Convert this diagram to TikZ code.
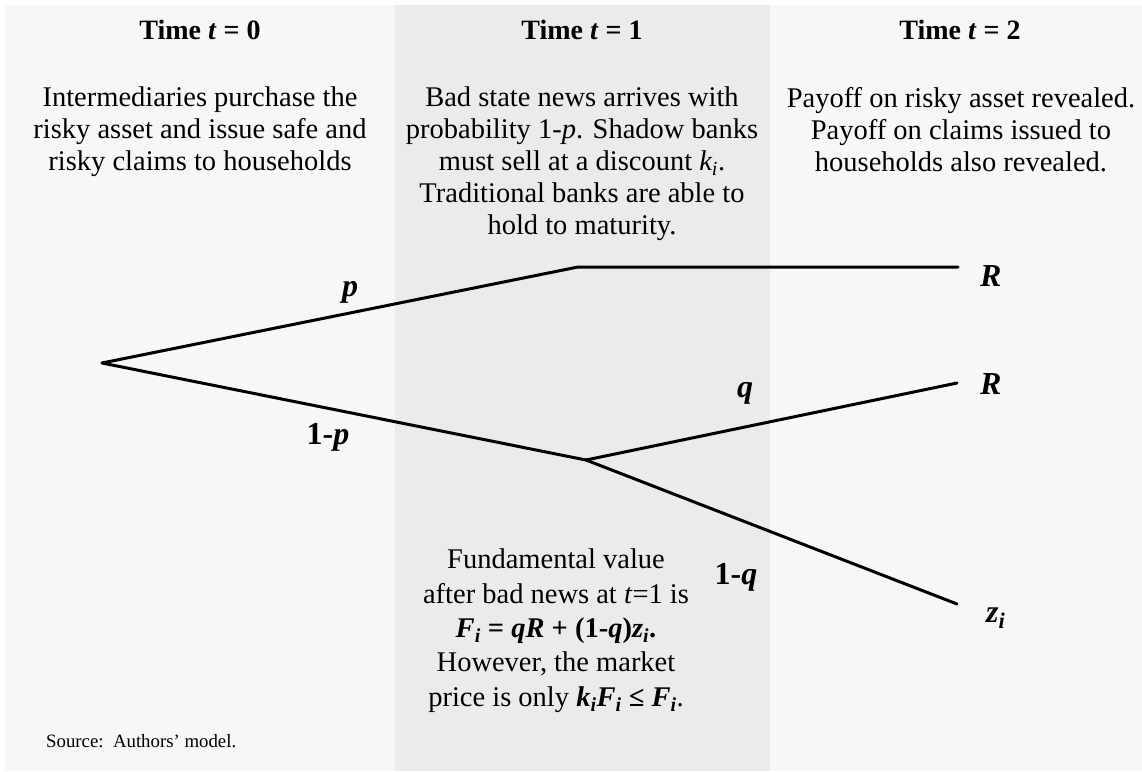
\documentclass[tikz,border=0pt]{standalone}
\usepackage{fontspec}
\setmainfont{Liberation Serif}
\newfontfamily\tnr{Liberation Serif}
\begin{document}
\begin{tikzpicture}[x=1pt,y=-1pt,
  branch/.style={line width=3pt,line cap=round},
  head/.style={font=\tnr\fontsize{28}{32}\selectfont\bfseries,align=center,inner sep=0pt},
  body/.style={font=\tnr\fontsize{28.5}{32}\selectfont,align=center,inner sep=0pt},
  bodyb/.style={font=\tnr\fontsize{28.5}{34.3}\selectfont,align=center,inner sep=0pt},
  lab/.style={font=\tnr\fontsize{32}{34}\selectfont\bfseries,inner sep=0pt}]
\definecolor{bgout}{HTML}{F7F7F7}
\definecolor{bgband}{HTML}{EBEBEB}
\useasboundingbox (0,0) rectangle (1142,771);
\fill[white] (0,0) rectangle (1142,771);
\fill[bgout] (5,5) rectangle (1142,771);
\fill[bgband] (395,5) rectangle (770,771);
% headings
\node[head,anchor=base] (h0) at (200,39) {Time \textit{t} = 0};
\node[head,anchor=base] (h1) at (582,39) {Time \textit{t} = 1};
\node[head,anchor=base] (h2) at (960,39) {Time \textit{t} = 2};
% texts
\node[body,anchor=north] (b0) at (200,87) {Intermediaries purchase the\\risky asset and issue safe and\\risky claims to households};
\node[body,anchor=north] (b1) at (582,87) {Bad state news arrives with\\probability 1-\textit{p}. Shadow banks\\must sell at a discount \textit{k\textsubscript{\textit{i}}}.\\Traditional banks are able to\\hold to maturity.};
\node[body,anchor=north] (b2) at (961,87) {Payoff on risky asset revealed.\\Payoff on claims issued to\\households also revealed.};
\node[bodyb,anchor=north] (b3) at (556,549) {Fundamental value\\after bad news at \textit{t}=1 is\\\textbf{\textit{F\textsubscript{i}} = \textit{qR} + (1-\textit{q})\textit{z\textsubscript{i}}.}\\However, the market\\price is only \textbf{\textit{k\textsubscript{i}F\textsubscript{i}} ≤ \textit{F\textsubscript{i}}}.};
\node[font=\tnr\fontsize{18.8}{20}\selectfont,anchor=base west,inner sep=0pt] (src) at (46,747) {Source:\ \ Authors’ model.};
% tree
\coordinate (root) at (102,363);
\coordinate (up) at (578,267);
\coordinate (upend) at (958,267);
\coordinate (dn) at (586,460);
\coordinate (dnup) at (957,383);
\coordinate (dndn) at (957,604);
\draw[branch] (root) -- (up) -- (upend);
\draw[branch] (root) -- (dn);
\draw[branch] (dn) -- (dnup);
\draw[branch] (dn) -- (dndn);
% labels
\node[lab] (lp) at (350,292) {\textit{p}};
\node[lab] (l1p) at (328,437) {1-\textit{p}};
\node[lab] (lq) at (745,393) {\textit{q}};
\node[lab] (l1q) at (736,577) {1-\textit{q}};
\node[lab,anchor=west] (R1) at (980,276) {\textit{R}};
\node[lab,anchor=west] (R2) at (980,384) {\textit{R}};
\node[lab,anchor=base west] (zi) at (986,622) {\textit{z\textsubscript{i}}};
\end{tikzpicture}
\end{document}
